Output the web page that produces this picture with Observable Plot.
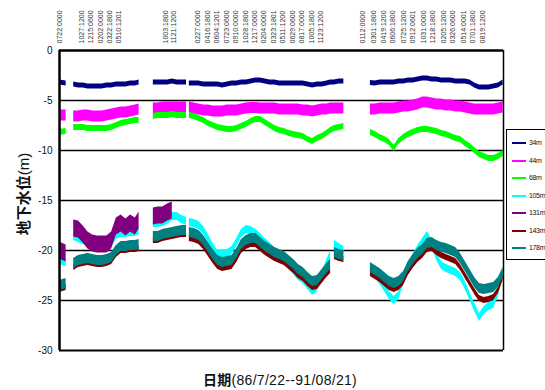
<!DOCTYPE html>
<html><head><meta charset="utf-8">
<script src="https://cdn.jsdelivr.net/npm/d3@7"></script>
<script src="https://cdn.jsdelivr.net/npm/@observablehq/plot@0.6"></script>
<style>
body{margin:0;background:#fff;}
#wrap{position:relative;width:545px;height:390px;overflow:hidden;background:#fff;font-family:"Liberation Sans",Arial,"Noto Sans CJK TC",sans-serif;color:#111;}
#wrap svg{position:absolute;left:0;top:0;}
.xt{position:absolute;left:280px;top:369px;transform:translateX(-50%);font-size:14px;white-space:nowrap;letter-spacing:0.3px;}
.yt{position:absolute;left:22px;top:194px;transform:translate(-50%,-50%) rotate(-90deg);font-size:15px;white-space:nowrap;}
.cjk{font-family:"Noto Sans CJK TC",sans-serif;font-weight:700;}
.leg{position:absolute;left:506px;top:129px;width:60px;height:129px;border:1.5px solid #000;background:#fff;}
.li{position:absolute;left:5px;height:10px;font-size:7px;line-height:10px;white-space:nowrap;letter-spacing:-0.35px;}
.li span.sw{display:inline-block;width:14px;height:2px;vertical-align:middle;margin-right:3px;}
</style></head><body><div id="wrap"></div>
<script>
const _ = null;
// category positions along the axis (in label-slot units); gap markers hold null values
const pos = [0, 0.7, 1.1,
 1.5, 2, 2.5, 3, 3.5, 4, 4.5, 5, 5.5, 6, 6.5, 7, 7.5, 8, 8.4, 9.2,
 9.9, 10.4, 10.9, 11.4, 11.9, 12.4, 12.9, 13.4, 13.55,
 13.7, 14.2, 14.7, 15.2, 15.7, 16.2, 16.7, 17.2, 17.7, 18.2, 18.7, 19.2, 19.7, 20.2, 20.7, 21.2, 21.7, 22.2, 22.7, 23.2, 23.7, 24.2, 24.7, 25.2, 25.7, 26.2, 26.7, 27.2, 27.7, 28.2, 28.6, 28.8,
 29.0, 29.5, 30.0, 31.4,
 32.8, 33.3, 33.8, 34.3, 34.8, 35.3, 35.8, 36.3, 36.8, 37.3, 37.8, 38.3, 38.8, 39.3, 39.8, 40.3, 40.8, 41.3, 41.8, 42.3, 42.8, 43.3, 43.8, 44.3, 44.8, 45.3, 45.8, 46.3, 46.8];

const w34 = [-3.2, -3.3, _,
 -3.4, -3.5, -3.5, -3.6, -3.6, -3.6, -3.6, -3.5, -3.5, -3.4, -3.4, -3.4, -3.3, -3.3, -3.2, _,
 -3.2, -3.2, -3.2, -3.2, -3.1, -3.2, -3.2, -3.2, _,
 -3.3, -3.3, -3.3, -3.4, -3.4, -3.4, -3.4, -3.5, -3.4, -3.3, -3.3, -3.2, -3.2, -3.1, -3.0, -3.0, -3.1, -3.2, -3.2, -3.3, -3.3, -3.3, -3.3, -3.3, -3.3, -3.4, -3.5, -3.4, -3.4, -3.3, -3.2, -3.2,
 -3.2, -3.1, -3.1, _,
 -3.25, -3.3, -3.2, -3.2, -3.2, -3.2, -3.1, -3.1, -3.0, -3.0, -2.9, -2.8, -2.8, -2.9, -2.9, -3.0, -3.0, -3.0, -3.1, -3.1, -3.1, -3.2, -3.5, -3.7, -3.7, -3.7, -3.6, -3.5, -3.2];

const w44 = [-6.5, -6.5, _,
 -6.6, -6.6, -6.5, -6.5, -6.6, -6.6, -6.6, -6.5, -6.4, -6.3, -6.2, -6.2, -6.1, -6.0, -5.9, _,
 -5.8, -5.8, -5.7, -5.7, -5.7, -5.7, -5.7, -5.7, _,
 -5.7, -5.8, -5.9, -6.0, -6.0, -6.1, -6.1, -6.1, -6.0, -6.0, -6.0, -5.9, -5.8, -5.75, -5.75, -5.8, -5.8, -5.8, -5.8, -5.9, -5.9, -5.9, -5.9, -5.9, -6.0, -6.0, -6.1, -6.0, -5.9, -5.9, -5.8, -5.8,
 -5.8, -5.8, -5.8, _,
 -5.9, -5.9, -5.8, -5.8, -5.8, -5.8, -5.7, -5.6, -5.6, -5.5, -5.4, -5.2, -5.2, -5.3, -5.4, -5.4, -5.5, -5.5, -5.6, -5.6, -5.7, -5.8, -5.9, -5.9, -5.9, -5.9, -5.9, -5.8, -5.7];

const w68 = [-8.2, -8.1, _,
 -7.7, -7.7, -7.7, -7.8, -7.8, -7.8, -7.8, -7.8, -7.7, -7.5, -7.3, -7.2, -7.1, -7.0, -7.0, _,
 -6.6, -6.5, -6.5, -6.5, -6.4, -6.5, -6.5, -6.5, _,
 -6.5, -6.6, -6.8, -7.0, -7.3, -7.5, -7.7, -7.8, -7.9, -7.9, -7.8, -7.6, -7.4, -7.1, -6.9, -6.9, -7.2, -7.5, -7.8, -8.0, -8.1, -8.3, -8.4, -8.5, -8.6, -8.9, -9.1, -8.8, -8.6, -8.3, -8.0, -7.9,
 -7.8, -7.7, -7.6, _,
 -8.2, -8.4, -8.7, -8.9, -9.2, -9.8, -9.1, -8.7, -8.4, -8.2, -8.0, -7.9, -7.9, -8.0, -8.1, -8.3, -8.4, -8.6, -8.8, -8.9, -9.3, -9.6, -10.0, -10.4, -10.6, -10.8, -10.8, -10.6, -10.3];

const w105 = [-21.0, -21.2, _,
 -18.6, -18.8, -19.0, -19.2, -19.4, -19.5, -19.5, -19.5, -19.3, -18.5, -18.3, -18.3, -18.2, -18.2, -18.0, _,
 -17.3, -17.3, -17.2, -17.0, -16.6, -16.6, -16.9, -17.1, _,
 -17.2, -17.3, -17.5, -18.0, -18.8, -19.7, -20.4, -20.4, -20.3, -20.0, -19.2, -18.3, -17.9, -18.0, -18.3, -18.7, -19.2, -19.6, -20.1, -20.4, -20.9, -21.5, -22.0, -22.6, -22.9, -23.5, -24.1, -23.7, -22.6, -21.3, -20.5, _,
 -19.4, -19.7, -20.0, _,
 -21.8, -22.3, -23.0, -23.7, -24.5, -25.0, -24.5, -23.0, -21.8, -20.8, -19.9, -19.2, -18.5, -19.3, -20.6, -21.5, -21.8, -22.0, -22.2, -22.6, -23.5, -24.6, -25.7, -26.7, -26.0, -25.6, -25.4, -24.2, -22.3];

const w131 = [-20.0, -20.3, _,
 -17.8, -17.9, -18.4, -19.0, -19.3, -19.4, -19.4, -19.4, -19.0, -17.6, -17.3, -17.7, -17.3, -17.6, -17.0, _,
 -16.6, -16.5, -16.5, -16.2, -16.0, _, _, _, _,
 _, _, _, _, _, _, _, _, _, _, _, _, _, _, _, _, _, _, _, _, _, _, _, _, _, _, _, _, _, _, _, _,
 _, _, _, _,
 _, _, _, _, _, _, _, _, _, _, _, _, _, _, _, _, _, _, _, _, _, _, _, _, _, _, _, _, _];

const w143 = [-23.9, -23.7, _,
 -21.7, -21.4, -21.3, -21.2, -21.3, -21.4, -21.4, -21.3, -21.1, -20.4, -20.0, -20.0, -19.9, -19.9, -19.8, _,
 -19.0, -19.0, -18.8, -18.7, -18.6, -18.5, -18.4, -18.4, _,
 -18.8, -18.9, -19.1, -19.6, -20.3, -21.0, -21.6, -21.8, -21.7, -21.6, -20.9, -20.0, -19.6, -19.4, -19.4, -19.8, -20.2, -20.5, -20.8, -21.0, -21.2, -21.6, -22.0, -22.5, -22.8, -23.3, -23.7, -23.6, -23.0, -22.4, -22.0, _,
 -20.6, -20.8, -20.9, _,
 -22.3, -22.6, -22.9, -23.3, -23.7, -23.9, -23.7, -23.2, -22.2, -21.5, -20.9, -20.5, -19.9, -19.8, -20.2, -20.5, -20.7, -20.9, -21.1, -21.7, -22.5, -23.3, -24.1, -24.8, -25.0, -24.9, -24.7, -24.0, -22.7];

const w178 = [-23.5, -23.3, _,
 -21.3, -21.0, -20.9, -20.8, -20.9, -21.0, -21.0, -20.9, -20.7, -20.0, -19.6, -19.6, -19.5, -19.5, -19.4, _,
 -18.6, -18.6, -18.4, -18.3, -18.2, -18.1, -18.0, -18.0, _,
 -18.2, -18.3, -18.5, -19.0, -19.7, -20.4, -21.0, -21.2, -21.1, -21.0, -20.3, -19.4, -19.0, -18.8, -18.8, -19.2, -19.6, -19.9, -20.2, -20.4, -20.6, -21.0, -21.4, -21.9, -22.2, -22.7, -23.1, -23.0, -22.4, -21.8, -21.4, _,
 -20.2, -20.4, -20.5, _,
 -21.7, -22.0, -22.3, -22.7, -23.1, -23.3, -23.1, -22.6, -21.6, -20.9, -20.3, -19.9, -19.3, -19.2, -19.5, -19.7, -19.8, -20.0, -20.2, -20.8, -21.6, -22.4, -23.2, -23.8, -23.9, -23.8, -23.7, -23.2, -22.2];

const seriesNames = ["34m", "44m", "68m", "105m", "131m", "143m", "178m"];
const seriesValues = [w34, w44, w68, w105, w131, w143, w178];

const tickPos = [0, 2.3, 3.3, 4.3, 5.3, 6.3, 11.2, 12.1, 14.6, 15.6, 16.6, 17.6, 18.6, 19.6, 20.6, 21.6, 22.6, 23.6, 24.6, 25.6, 26.6, 27.6, 32.0, 33.1, 34.2, 35.2, 36.3, 37.3, 38.4, 39.4, 40.5, 41.5, 42.6, 43.6, 44.7];
const tickLab = ["0722:0000", "1027:1200", "1215:0600", "0202:0000", "0322:1800", "0510:1201", "1003:1800", "1121:1200", "0227:0000", "0416:1800", "0604:1201", "0723:0600", "0910:0000", "1028:1800", "1217:0600", "0204:0000", "0323:1801", "0511:1200", "0629:0600", "0817:0000", "1005:1800", "1123:1200", "0112:0000", "0301:1800", "0419:1200", "0606:1800", "0725:1200", "0912:0601", "1031:0000", "1218:1800", "0205:1200", "0326:0600", "0514:0001", "0701:1800", "0819:1200"];
const yTicks = [0, -5, -10, -15, -20, -25, -30];
const xTitle = "(86/7/22--91/08/21)", xTitleCjk = "日期";
const yTitleCjk = "地下水位", yTitleUnit = "(m)";

// styles
const colors = ["#000080", "#FF00FF", "#00FF00", "#00FFFF", "#800080", "#800000", "#008080"];
const bandPx = [5, 11, 6, 8, 17, 6, 10];
const pxPerUnit = 10; // y: 300px for 30 m

seriesValues.forEach((a, i) => { if (a.length !== pos.length) console.error(seriesNames[i], a.length, pos.length); });

const bands = seriesNames.map((name, i) => {
  const h = bandPx[i] / 2 / pxPerUnit;
  const rows = pos.map((x, j) => ({x, v: seriesValues[i][j]}));
  return Plot.areaY(rows, {
    x: "x",
    y1: d => d.v == null ? NaN : d.v - h,
    y2: d => d.v == null ? NaN : d.v + h,
    fill: colors[i]
  });
});

const xMax = 46.84;
const chart = Plot.plot({
  width: 545, height: 390,
  marginLeft: 59, marginRight: 42, marginTop: 50, marginBottom: 40,
  x: {domain: [0, xMax], label: null},
  y: {domain: [-30, 0], label: null},
  style: {fontFamily: '"Liberation Sans", Arial, sans-serif', background: "transparent", overflow: "visible"},
  marks: [
    Plot.ruleY([-5, -10, -15, -20, -25], {stroke: "#000", strokeWidth: 1.5}),
    ...bands,
    Plot.ruleY([-30], {stroke: "#000", strokeWidth: 2}),
    Plot.ruleX([xMax], {stroke: "#000", strokeWidth: 1.5}),
    Plot.ruleY([0], {stroke: "#000", strokeWidth: 2.5}),
    Plot.ruleX([0], {stroke: "#000", strokeWidth: 2.5}),
    Plot.axisY(yTicks, {anchor: "left", label: null, tickSize: 0, tickPadding: 7, fontSize: 10, fill: "#111", tickFormat: d => String(d)}),
    Plot.axisX(tickPos, {anchor: "top", label: null, tickSize: 0, tickPadding: 7, tickRotate: -90, fontSize: 7, fill: "#333", tickFormat: d => tickLab[tickPos.indexOf(d)]})
  ]
});
const wrap = document.getElementById("wrap");
wrap.appendChild(chart);

const xt = document.createElement("div");
xt.className = "xt";
xt.innerHTML = `<span class="cjk">${xTitleCjk}</span>${xTitle}`;
wrap.appendChild(xt);

const yt = document.createElement("div");
yt.className = "yt";
yt.innerHTML = `<span class="cjk">${yTitleCjk}</span>${yTitleUnit}`;
wrap.appendChild(yt);

const leg = document.createElement("div");
leg.className = "leg";
seriesNames.forEach((n, i) => {
  const it = document.createElement("div");
  it.className = "li";
  it.style.top = (8 + i * 17.5) + "px";
  it.innerHTML = `<span class="sw" style="background:${colors[i]}"></span>${n}`;
  leg.appendChild(it);
});
wrap.appendChild(leg);
</script></body></html>
